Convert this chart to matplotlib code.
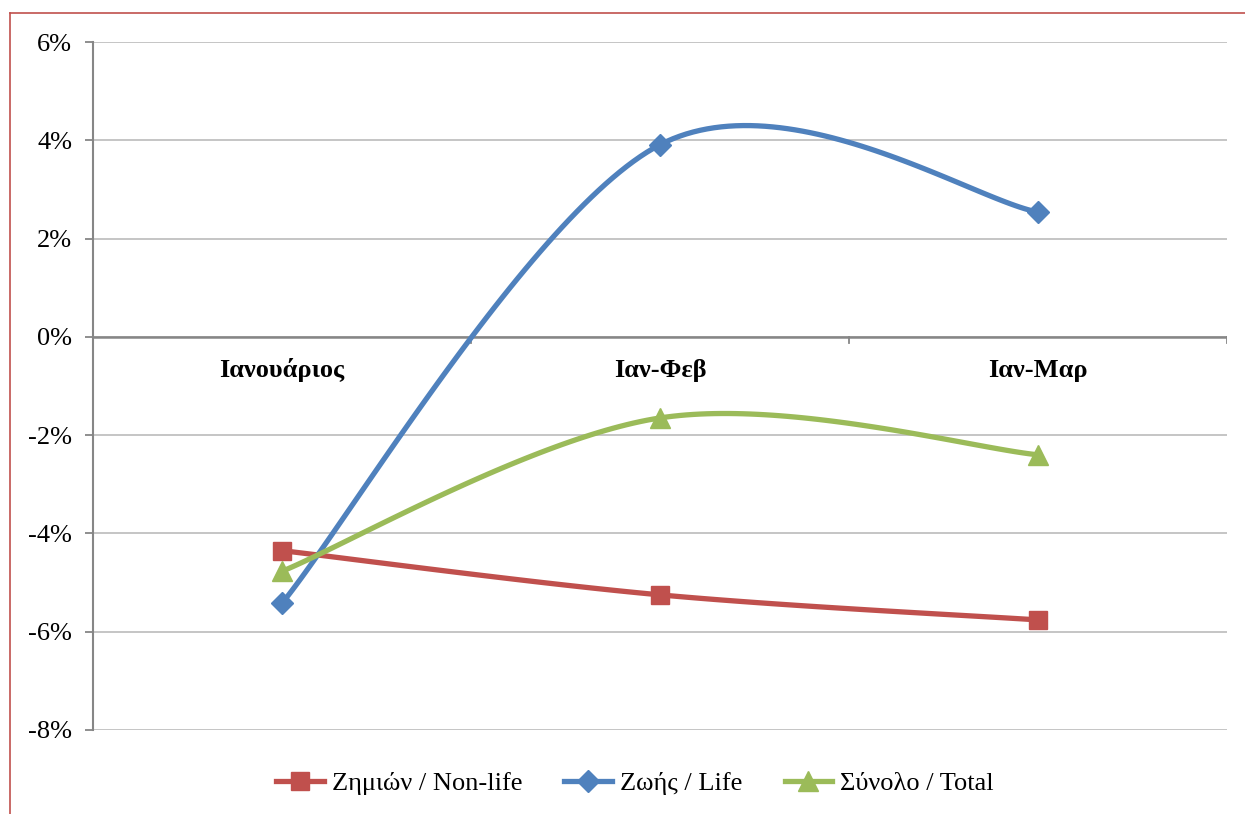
import matplotlib.pyplot as plt
import matplotlib.lines as mlines
import numpy as np

# data (percent)
categories = ['Ιανουάριος', 'Ιαν-Φεβ', 'Ιαν-Μαρ']
non_life = [-4.35, -5.25, -5.76]
life = [-5.42, 3.91, 2.54]
total = [-4.77, -1.65, -2.40]
series_names = ['Ζημιών / Non-life', 'Ζωής / Life', 'Σύνολο / Total']
y_ticks = [-8, -6, -4, -2, 0, 2, 4, 6]


def smooth(x, y, n=60):
    # Excel-like smoothed line: Catmull-Rom bezier through the points
    x = np.asarray(x, float)
    y = np.asarray(y, float)
    px = np.concatenate([[x[0]], x, [x[-1]]])
    py = np.concatenate([[y[0]], y, [y[-1]]])
    xs, ys = [], []
    t = np.linspace(0, 1, n)
    for i in range(1, len(px) - 2):
        p0 = np.array([px[i], py[i]])
        p3 = np.array([px[i + 1], py[i + 1]])
        c1 = p0 + (np.array([px[i + 1], py[i + 1]]) - np.array([px[i - 1], py[i - 1]])) / 6
        c2 = p3 - (np.array([px[i + 2], py[i + 2]]) - np.array([px[i], py[i]])) / 6
        b = ((1 - t) ** 3)[:, None] * p0 + (3 * (1 - t) ** 2 * t)[:, None] * c1 \
            + (3 * (1 - t) * t ** 2)[:, None] * c2 + (t ** 3)[:, None] * p3
        xs.extend(b[:, 0])
        ys.extend(b[:, 1])
    return np.array(xs), np.array(ys)


plt.rcParams['font.family'] = ['Liberation Serif', 'DejaVu Serif']
fs = 19

fig = plt.figure(figsize=(12.45, 8.14), dpi=100)
ax = fig.add_axes([0.0747, 0.1032, 0.9108, 0.8452])

xpos = np.arange(len(categories)) + 0.5
colors = ['#c0504d', '#4f81bd', '#9bbb59']
markers = ['s', 'D', '^']
msizes = [13, 11, 14]
handles = []
for vals, c, m, ms, name in zip([non_life, life, total], colors, markers, msizes, series_names):
    sx, sy = smooth(xpos, vals)
    ax.plot(sx, sy, color=c, lw=3.8, solid_capstyle='round', zorder=3)
    ax.plot(xpos, vals, ls='none', marker=m, ms=ms, color=c, zorder=4)
    handles.append(mlines.Line2D([], [], color=c, lw=3.8, marker=m, ms=ms, label=name))

ax.set_xlim(0, len(categories))
ax.set_ylim(-8, 6)
ax.set_yticks(y_ticks)
ax.set_yticklabels([f'{v}%' for v in y_ticks], fontsize=fs)
ax.yaxis.grid(True, color='#c0c0c0', lw=1.3)
ax.set_axisbelow(True)

for s in ['top', 'right', 'bottom']:
    ax.spines[s].set_visible(False)
ax.spines['left'].set_color('#868686')
ax.spines['left'].set_linewidth(1.5)
ax.tick_params(axis='y', color='#868686', width=1.3, length=6, pad=9)

# category axis at zero
ax.axhline(0, color='#868686', lw=1.8, zorder=2)
ax.set_xticks([])
for xb in np.arange(1, len(categories) + 1):
    ax.plot([xb, xb], [0, -0.13], color='#868686', lw=1.3, zorder=2)
for xc, lab in zip(xpos, categories):
    ax.text(xc, -0.68, lab, ha='center', va='center', fontsize=fs, fontweight='bold')

fig.legend(handles=handles, loc='center', bbox_to_anchor=(0.51, 0.038), ncol=3,
           frameon=False, fontsize=fs, handlelength=1.8, handletextpad=0.3,
           columnspacing=1.6)

# red chart border (left and top edges visible)
fig.add_artist(mlines.Line2D([10 / 1245, 10 / 1245], [0, 1 - 13 / 814], color='#c0504d', lw=1.2))
fig.add_artist(mlines.Line2D([10 / 1245, 1], [1 - 13 / 814, 1 - 13 / 814], color='#c0504d', lw=1.2))

fig.savefig('out.png', dpi=100)
